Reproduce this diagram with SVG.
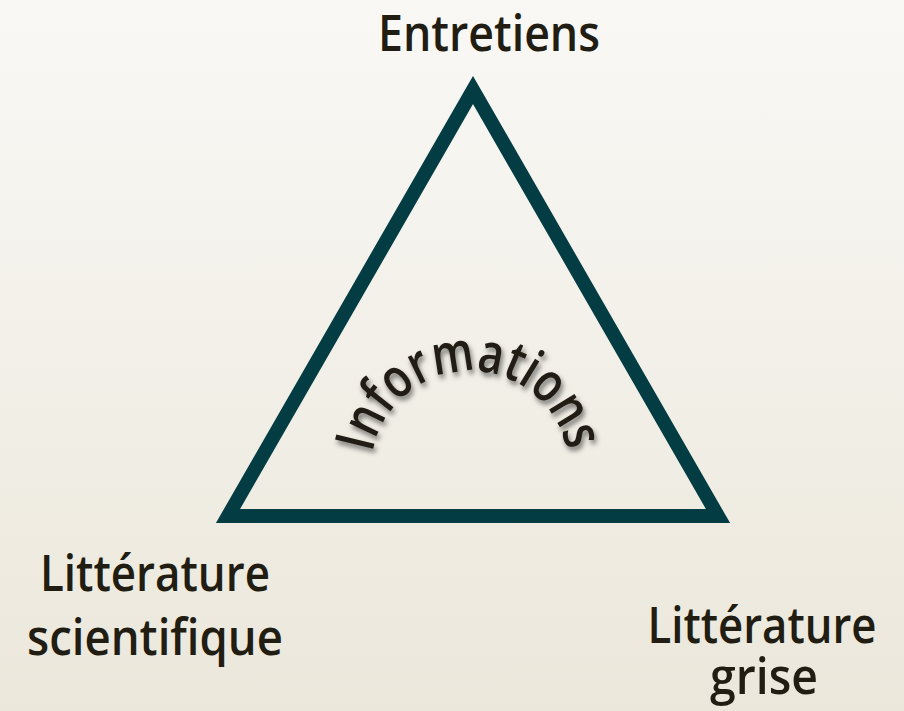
<svg xmlns="http://www.w3.org/2000/svg" width="904" height="711" viewBox="0 0 904 711">
<defs>
<linearGradient id="bg" x1="0" y1="0" x2="0" y2="1">
<stop offset="0" stop-color="#f9f8f5"/>
<stop offset="1" stop-color="#ebe7db"/>
</linearGradient>
<filter id="sh" x="-20%" y="-20%" width="140%" height="160%">
<feDropShadow dx="2" dy="4" stdDeviation="2.5" flood-color="#000" flood-opacity="0.5"/>
</filter>
<path id="arc" d="M 372.5,452.8 A 99 99 0 0 1 567.5,452.8"/>
</defs>
<style>
.lbl{font-family:"Open Sans","Noto Sans",sans-serif;font-size:50px;font-weight:600;fill:#211d12;text-anchor:middle}
.tri{fill:none;stroke:#033c43;stroke-width:14;stroke-linejoin:miter}
</style>
<rect width="904" height="711" fill="url(#bg)"/>
<g id="triangle"><path class="tri" d="M 473,90 L 228,516 L 718,516 Z"/></g>
<g id="informations" filter="url(#sh)">
<text style="font-family:'Open Sans','Noto Sans',sans-serif;font-size:55px;font-weight:600;fill:#211d12"><textPath href="#arc" textLength="274" lengthAdjust="spacingAndGlyphs">Informations</textPath></text>
</g>
<g id="entretiens"><text class="lbl" x="489" y="51" textLength="222" lengthAdjust="spacingAndGlyphs">Entretiens</text></g>
<g id="litt-sci">
<text class="lbl" x="155" y="591" textLength="230" lengthAdjust="spacingAndGlyphs">Littérature</text>
<text class="lbl" x="155" y="655" textLength="256" lengthAdjust="spacingAndGlyphs">scientifique</text>
</g>
<g id="litt-grise">
<text class="lbl" x="762" y="643" textLength="229" lengthAdjust="spacingAndGlyphs">Littérature</text>
<text class="lbl" x="764" y="694" textLength="108" lengthAdjust="spacingAndGlyphs">grise</text>
</g>
</svg>
